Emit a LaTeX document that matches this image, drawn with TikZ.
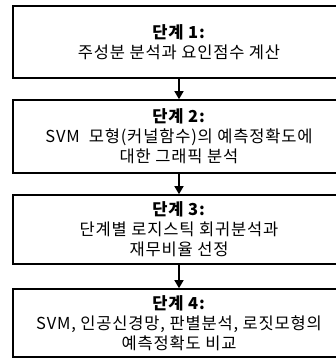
\documentclass[tikz,border=0pt]{standalone}
\usepackage{fontspec}
\setmainfont{Noto Sans CJK KR}
\usetikzlibrary{arrows.meta}
\begin{document}
\begin{tikzpicture}[x=1pt,y=-1pt,
  stepbox/.style={draw, line width=1.6pt, minimum width=332pt, inner sep=0pt,
    align=center, font=\fontsize{16.5}{20}\selectfont\addfontfeatures{LetterSpace=5}},
  flow/.style={line width=1.4pt, -{Triangle[length=8pt,width=9pt]}}]
\useasboundingbox (0,0) rectangle (336,359);
\clip (0,0) rectangle (336,359);
\node[stepbox, minimum height=72pt] (s1) at (179,42)
  {\textbf{단계 1:}\\주성분 분석과 요인점수 계산};
\node[stepbox, minimum height=73pt] (s2) at (179,136.5)
  {\textbf{단계 2:}\\SVM\ \ 모형(커널함수)의 예측정확도에\\대한 그래픽 분석};
\node[stepbox, minimum height=69pt] (s3) at (179,229.5)
  {\textbf{단계 3:}\\단계별 로지스틱 회귀분석과\\재무비율 선정};
\node[stepbox, minimum height=68pt] (s4) at (179,323)
  {\textbf{단계 4:}\\SVM, 인공신경망, 판별분석, 로짓모형의\\예측정확도 비교};
\draw[flow] (s1.south) -- (s2.north);
\draw[flow] (s2.south) -- (s3.north);
\draw[flow] (s3.south) -- (s4.north);
\end{tikzpicture}
\end{document}
